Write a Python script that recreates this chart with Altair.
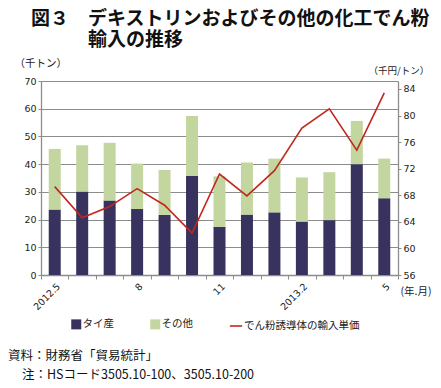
import altair as alt
import pandas as pd

months = ["2012.5", "2012.6", "2012.7", "2012.8", "2012.9", "2012.10", "2012.11",
          "2012.12", "2013.1", "2013.2", "2013.3", "2013.4", "2013.5"]
thai = [23.6, 30.1, 26.9, 23.8, 21.7, 35.8, 17.4, 21.8, 22.6, 19.3, 19.8, 40.0, 27.7]
others = [21.9, 16.7, 20.8, 16.4, 16.2, 21.6, 18.2, 18.8, 19.4, 15.9, 17.3, 15.6, 14.3]
price = [69.3, 64.6, 66.3, 69.0, 66.5, 62.3, 71.2, 67.9, 71.7, 78.1, 81.0, 74.8, 83.4]

s_thai = "タイ産"
s_other = "その他"
s_price = "でん粉誘導体の輸入単価"

title_lines = ["図３　デキストリンおよびその他の化工でん粉", "輸入の推移"]
footer_lines = ["資料：財務省「貿易統計」", "注：HSコード3505.10-100、3505.10-200"]

JP = "Noto Sans CJK JP"
NUM = "DejaVu Sans"
GRID = "#8c8c8c"

rows = []
for i, m in enumerate(months):
    rows.append({"month": m, "series": s_thai, "value": thai[i], "ord": 0})
    rows.append({"month": m, "series": s_other, "value": others[i], "ord": 1})
bars_df = pd.DataFrame(rows)
line_df = pd.DataFrame({"month": months, "price": price, "series": [s_price] * len(months)})

label_expr = ("datum.value == '2012.5' ? '2012.5' : datum.value == '2012.8' ? '8' : "
              "datum.value == '2012.11' ? '11' : datum.value == '2013.2' ? '2013.2' : "
              "datum.value == '2013.5' ? '5' : ''")

x_enc = alt.X("month:N", sort=months,
              scale=alt.Scale(paddingInner=0, paddingOuter=0),
              axis=alt.Axis(title="(年.月)", titleAngle=0, titleX=359, titleY=16,
                            titleAlign="left", titleBaseline="middle",
                            titleFont=JP, titleFontSize=10.5, titleFontWeight="normal",
                            titleColor="#222",
                            labelExpr=label_expr, labelAngle=-45, labelFont=NUM,
                            labelFontSize=9.5, labelColor="#222", labelPadding=2,
                            tickBand="extent", tickSize=4, tickColor=GRID,
                            domainColor=GRID, domainWidth=1.3, grid=False))

bars = alt.Chart(bars_df).mark_bar(size=12).encode(
    x=x_enc,
    y=alt.Y("value:Q", stack="zero",
            scale=alt.Scale(domain=[0, 70], nice=False),
            axis=alt.Axis(values=[0, 10, 20, 30, 40, 50, 60, 70], title="（千トン）",
                          titleAngle=0, titleX=-27, titleY=-18, titleAlign="left",
                          titleBaseline="middle", titleFont=JP, titleFontSize=10.5,
                          titleFontWeight="normal", titleColor="#222",
                          labelFont=NUM, labelFontSize=9.5, labelColor="#222",
                          tickSize=3, tickColor=GRID, domainColor=GRID, domainWidth=1.3,
                          grid=True, gridColor=GRID, gridWidth=1)),
    color=alt.Color("series:N",
                    scale=alt.Scale(domain=[s_thai, s_other], range=["#37325e", "#c4d69f"]),
                    legend=alt.Legend(title=None, orient="none", legendX=30, legendY=238,
                                      direction="horizontal", symbolType="square",
                                      symbolSize=100, symbolStrokeWidth=0,
                                      labelFont=JP, labelFontSize=10.5, labelColor="#222",
                                      labelOffset=1, columnPadding=36)),
    order=alt.Order("ord:Q"),
)

line = alt.Chart(line_df).mark_line(strokeWidth=1.6).encode(
    x=alt.X("month:N", sort=months),
    y=alt.Y("price:Q", scale=alt.Scale(domain=[56, 85.2], nice=False, zero=False),
            axis=alt.Axis(orient="right", values=[56, 60, 64, 68, 72, 76, 80, 84],
                          title="（千円/トン）", titleAngle=0, titleX=-30, titleY=-11,
                          titleAlign="left", titleBaseline="middle", titleFont=JP,
                          titleFontSize=9.5, titleFontWeight="normal", titleColor="#222",
                          labelFont=NUM, labelFontSize=9.5, labelColor="#222",
                          tickSize=3, tickColor=GRID, domainColor=GRID, domainWidth=1.3,
                          grid=False)),
    stroke=alt.Stroke("series:N", scale=alt.Scale(domain=[s_price], range=["#c0281e"]),
                      legend=alt.Legend(title=None, orient="none", legendX=188, legendY=238,
                                        symbolType="stroke", symbolSize=150,
                                        symbolStrokeWidth=1.6,
                                        labelFont=JP, labelFontSize=10.5, labelColor="#222",
                                        labelOffset=1)),
)

title1 = alt.Chart(pd.DataFrame({"t": [title_lines[0]]})).mark_text(
    font=JP, fontSize=19, fontWeight="bold", align="left", baseline="middle", color="#111"
).encode(text="t:N", x=alt.value(-10), y=alt.value(-62))
title2 = alt.Chart(pd.DataFrame({"t": [title_lines[1]]})).mark_text(
    font=JP, fontSize=19, fontWeight="bold", align="left", baseline="middle", color="#111"
).encode(text="t:N", x=alt.value(47), y=alt.value(-41))
foot1 = alt.Chart(pd.DataFrame({"t": [footer_lines[0]]})).mark_text(
    font=JP, fontSize=12.5, align="left", baseline="middle", color="#111"
).encode(text="t:N", x=alt.value(-33), y=alt.value(275))
foot2 = alt.Chart(pd.DataFrame({"t": [footer_lines[1]]})).mark_text(
    font=JP, fontSize=12.5, align="left", baseline="middle", color="#111"
).encode(text="t:N", x=alt.value(-19), y=alt.value(294))

chart = alt.layer(bars, line, title1, title2, foot1, foot2).resolve_scale(
    y="independent", color="independent", stroke="independent"
).resolve_legend(color="independent", stroke="independent").properties(
    width=357, height=194,
    autosize=alt.AutoSizeParams(type="none"),
    padding={"left": 33, "top": 73, "right": 35, "bottom": 109},
    background="white",
).configure_view(stroke=None)

chart.save("out.html", embed_options={"renderer": "svg", "actions": False})
